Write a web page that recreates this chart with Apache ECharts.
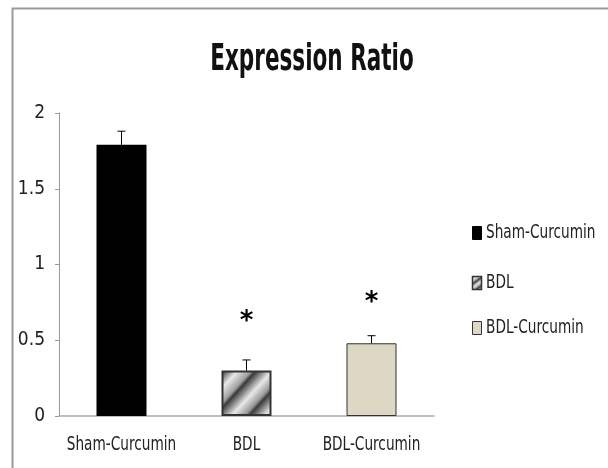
<!DOCTYPE html>
<html><head><meta charset="utf-8">
<script src="https://cdn.jsdelivr.net/npm/echarts@6/dist/echarts.min.js"></script>
<style>html,body{margin:0;padding:0;background:#fff;overflow:hidden}#c{width:608px;height:468px}</style>
</head><body><div id="c"></div>
<script>
const categories = ['Sham-Curcumin', 'BDL', 'BDL-Curcumin'];
const meanValues = [1.79, 0.30, 0.48];
const errorTops = [1.88, 0.37, 0.53];
const asteriskValues = [null, 0.65, 0.78];
const yTicks = [0, 0.5, 1, 1.5, 2];
const titleText = 'Expression Ratio';

const FONT = '"DejaVu Sans Condensed", "DejaVu Sans", sans-serif';
const NARROW = 0.8;
const hatch = () => ({
  type: 'linear', x: 0, y: 0, x2: 1, y2: 1,
  colorStops: [
    {offset: 0, color: '#2a2a2a'}, {offset: 0.18, color: '#e8e8e8'},
    {offset: 0.33, color: '#a0a0a0'}, {offset: 0.38, color: '#3a3a3a'},
    {offset: 0.56, color: '#e8e8e8'}, {offset: 0.70, color: '#999'},
    {offset: 0.75, color: '#3a3a3a'}, {offset: 0.92, color: '#e0e0e0'},
    {offset: 1, color: '#bbb'}
  ]
});
const styles = [
  {color: '#000', borderColor: '#000', borderWidth: 0},
  {color: hatch(), borderColor: '#333', borderWidth: 2},
  {color: '#ddd8c3', borderColor: '#333', borderWidth: 1}
];

const series = categories.map((name, i) => ({
  name, type: 'bar', stack: 'all', barWidth: 50,
  itemStyle: styles[i],
  data: categories.map((c, j) => j === i ? meanValues[i] : null)
}));
series.push({
  type: 'custom', name: 'err', silent: true, z: 5,
  data: categories.map((c, i) => [i, meanValues[i], errorTops[i]]),
  renderItem: (params, api) => {
    const b = api.coord([api.value(0), api.value(1)]);
    const t = api.coord([api.value(0), api.value(2)]);
    return {type: 'group', children: [
      {type: 'line', shape: {x1: b[0], y1: b[1], x2: t[0], y2: t[1]}, style: {stroke: '#000', lineWidth: 1}},
      {type: 'line', shape: {x1: t[0] - 4, y1: t[1], x2: t[0] + 4, y2: t[1]}, style: {stroke: '#000', lineWidth: 1}}
    ]};
  }
});
series.push({
  type: 'custom', name: 'star', silent: true, z: 5,
  data: categories.map((c, i) => [i, asteriskValues[i]]).filter(d => d[1] != null),
  renderItem: (params, api) => {
    const p = api.coord([api.value(0), api.value(1)]);
    return {type: 'text', x: p[0], y: p[1] + 5, style: {text: '*', font: 'bold 26px "DejaVu Sans"', fill: '#000', align: 'center', verticalAlign: 'middle'}};
  }
});
// x category labels (narrowed text)
series.push({
  type: 'custom', name: 'xlabels', silent: true, z: 5,
  data: categories.map((c, i) => [i, 0]),
  renderItem: (params, api) => {
    const p = api.coord([api.value(0), 0]);
    return {type: 'text', x: p[0], y: p[1] + 29, scaleX: NARROW,
      style: {text: categories[params.dataIndex], font: '19px ' + FONT, fill: '#222', align: 'center', verticalAlign: 'middle'}};
  }
});

const legendTops = [233, 283, 328];
const legendGraphics = [];
categories.forEach((name, i) => {
  legendGraphics.push({type: 'rect', shape: {x: 472.5, y: legendTops[i] - 6.5, width: 9, height: 13},
    style: {fill: i === 1 ? hatch() : styles[i].color, stroke: i === 0 ? '#000' : '#333', lineWidth: i === 1 ? 1.5 : 1}});
  legendGraphics.push({type: 'text', x: 486, y: legendTops[i], scaleX: NARROW,
    style: {text: name, font: '19px ' + FONT, fill: '#222', align: 'left', verticalAlign: 'middle'}});
});

const chart = echarts.init(document.getElementById('c'));
chart.setOption({
  animation: false,
  graphic: [
    {type: 'polyline', shape: {points: [[12.5, 700], [12.5, 8.5], [800, 8.5]]}, style: {fill: 'none', stroke: '#999', lineWidth: 2}, z: -1},
    {type: 'text', x: 312, y: 60, scaleX: 0.63, style: {text: titleText, font: 'bold 38px ' + FONT, fill: '#111', align: 'center', verticalAlign: 'middle'}}
  ].concat(legendGraphics),
  grid: {left: 59, right: 174, top: 113, bottom: 52},
  xAxis: {type: 'category', data: categories,
    axisLine: {lineStyle: {color: '#aaa', width: 1.5}}, axisTick: {show: false},
    axisLabel: {show: false}},
  yAxis: {type: 'value', min: yTicks[0], max: yTicks[yTicks.length - 1], interval: 0.5,
    splitLine: {show: false},
    axisLine: {show: true, lineStyle: {color: '#999'}},
    axisTick: {show: true, length: 4, lineStyle: {color: '#999'}},
    axisLabel: {fontFamily: FONT, fontSize: 19, color: '#222', margin: 14}},
  series
});
</script></body></html>
